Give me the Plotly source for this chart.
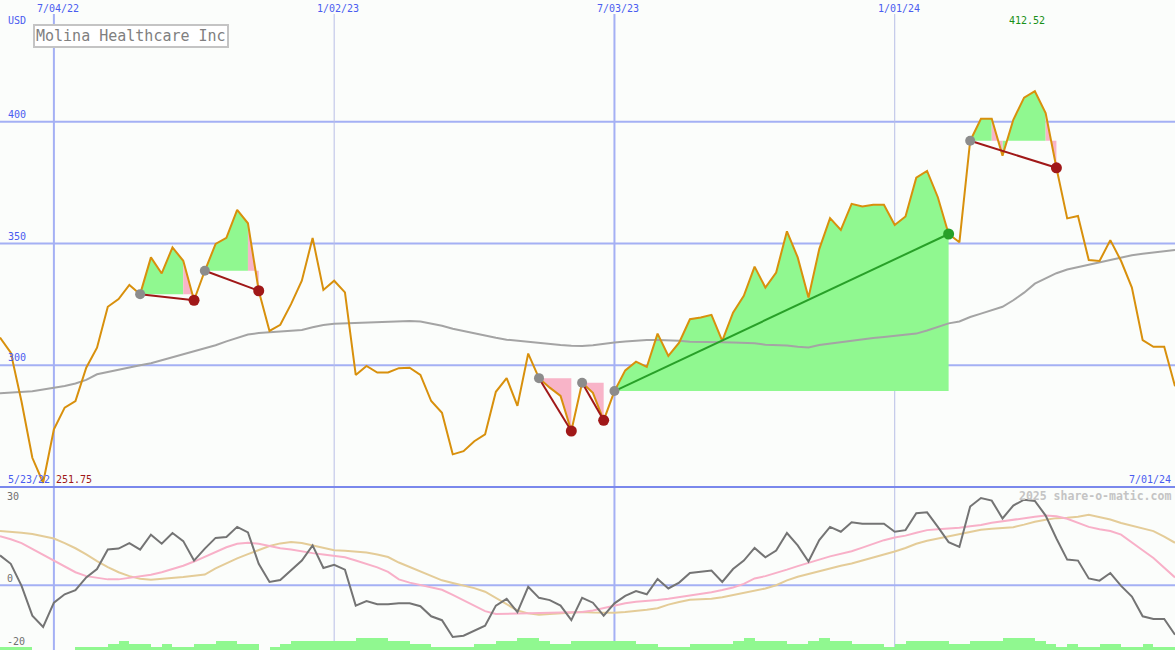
import plotly.graph_objects as go
import pandas as pd

# ---------------- data ----------------
dates = [d.strftime("%Y-%m-%d") for d in pd.date_range("2022-05-30", periods=110, freq="7D")]

price = [311.4, 305.2, 285.0, 262.0, 251.75, 273.7, 282.6, 285.3, 299.0, 307.2,
         324.0, 327.2, 333.0, 329.2, 344.3, 337.7, 348.4, 342.9, 326.7, 338.8,
         349.8, 352.3, 363.8, 358.3, 330.6, 314.1, 316.6, 325.1, 334.7, 352.3,
         330.9, 334.7, 329.9, 296.0, 299.7, 297.0, 297.0, 298.8, 299.0, 296.0,
         285.3, 280.5, 263.4, 264.7, 268.8, 271.6, 289.1, 294.7, 283.3, 304.8,
         294.7, 290.8, 287.4, 273.0, 292.8, 288.7, 277.4, 289.4, 297.9, 301.5,
         299.3, 313.0, 303.8, 309.3, 318.9, 319.6, 320.7, 310.0, 321.6, 328.5,
         340.5, 331.9, 338.1, 355.0, 344.3, 327.8, 347.7, 360.4, 355.6, 366.3,
         365.2, 365.9, 365.9, 357.6, 361.1, 377.0, 379.8, 369.0, 353.9, 350.5,
         392.2, 401.2, 401.2, 386.1, 400.8, 409.9, 412.52, 403.6, 381.1, 360.3,
         361.3, 343.2, 342.8, 351.4, 342.8, 331.9, 310.3, 307.6, 307.6, 291.4]

moving_avg = [288.5, 288.8, 289.0, 289.3, 290.0, 290.6, 291.5, 292.5, 294.0, 296.3,
              297.3, 298.3, 299.3, 300.0, 300.8, 302.0, 303.3, 304.6, 305.6, 306.7,
              308.2, 309.8, 311.3, 312.6, 313.2, 313.5, 313.8, 314.1, 314.5, 315.6,
              316.5, 317.0, 317.2, 317.4, 317.6, 317.8, 318.0, 318.2, 318.2, 318.0,
              317.2, 316.2, 315.0, 314.0, 313.0, 312.3, 311.3, 310.5, 310.0, 309.5,
              309.2, 308.8, 308.3, 308.0, 307.9, 308.2, 308.9, 309.3, 309.8, 310.2,
              310.4, 310.4, 310.4, 310.1, 309.7, 309.7, 309.5, 309.4, 309.3, 309.3,
              309.0, 308.4, 308.3, 308.1, 307.6, 307.3, 308.3, 308.9, 309.6, 310.3,
              310.9, 311.2, 311.6, 312.0, 312.4, 313.0, 314.3, 315.8, 317.2, 318.0,
              319.8, 321.2, 322.5, 324.0, 326.7, 329.8, 333.5, 335.8, 337.8, 339.3,
              340.3, 341.3, 342.4, 343.2, 344.3, 345.2, 345.8, 346.4, 346.9, 347.3]

osc_gray = [9.2, 6.6, -0.2, -9.4, -12.9, -5.4, -2.8, -1.5, 2.4, 5.0,
            11.0, 11.3, 13.0, 11.0, 15.6, 12.8, 16.1, 13.6, 7.6, 11.3,
            14.6, 14.9, 18.0, 16.3, 6.6, 1.0, 1.6, 4.5, 7.6, 12.3,
            5.3, 6.3, 4.8, -6.3, -4.9, -5.9, -5.9, -5.6, -5.6, -6.5,
            -9.6, -10.8, -16.0, -15.6, -14.0, -12.5, -6.3, -4.2, -8.3, -0.5,
            -3.9, -4.6, -6.3, -10.8, -3.9, -5.4, -9.4, -5.6, -3.3, -1.8,
            -2.8, 1.9, -1.0, 0.8, 3.75, 4.2, 4.5, 1.0, 5.0, 7.6,
            11.5, 8.6, 10.7, 16.1, 12.3, 7.3, 13.9, 18.0, 16.5, 19.4,
            19.0, 19.0, 19.0, 16.5, 17.0, 22.2, 22.5, 18.0, 13.3, 11.8,
            24.3, 26.9, 26.1, 20.6, 24.6, 26.4, 26.0, 21.5, 14.4, 7.9,
            7.6, 2.1, 1.4, 3.75, -0.2, -3.5, -9.6, -10.4, -10.4, -15.3]

osc_pink = [15.1, 14.2, 13.0, 11.2, 9.4, 7.5, 5.7, 4.0, 2.8, 2.2,
            1.8, 1.8, 2.3, 2.7, 3.2, 4.0, 5.0, 6.0, 7.3, 8.8,
            10.3, 11.7, 12.8, 13.1, 12.8, 12.1, 11.4, 11.0, 10.4, 9.9,
            9.5, 9.1, 8.6, 7.6, 6.6, 5.5, 4.1, 1.8, 0.8, 0.1,
            -0.6, -1.4, -3.0, -4.6, -6.3, -8.0, -8.9, -8.8, -8.75, -8.6,
            -8.5, -8.4, -8.3, -8.3, -8.3, -7.8, -7.1, -6.2, -5.6, -5.1,
            -4.9, -4.6, -4.2, -3.7, -3.3, -2.8, -2.2, -1.5, -0.7, 0.4,
            2.1, 2.8, 3.7, 4.8, 5.9, 7.0, 7.9, 8.9, 9.6, 10.5,
            11.6, 12.8, 13.9, 14.7, 15.3, 16.2, 17.0, 17.3, 17.5, 17.7,
            18.2, 18.6, 19.3, 19.8, 20.3, 20.7, 21.1, 21.5, 21.3, 20.5,
            19.2, 18.0, 17.3, 16.7, 15.6, 13.1, 10.8, 8.4, 5.5, 2.4]

osc_tan = [16.7, 16.5, 16.2, 15.8, 15.2, 14.4, 13.0, 11.4, 9.5, 7.4,
           5.6, 4.0, 2.8, 2.0, 1.7, 1.9, 2.1, 2.5, 2.9, 3.3,
           5.2, 6.8, 8.3, 9.6, 10.9, 12.1, 12.9, 13.3, 13.0, 12.3,
           11.4, 10.8, 10.6, 10.4, 10.1, 9.5, 8.7, 7.0, 5.6, 4.1,
           2.8, 1.5, 0.7, 0.0, -0.9, -2.0, -3.9, -5.9, -7.8, -8.7,
           -9.1, -8.9, -8.7, -8.5, -8.3, -8.45, -8.5, -8.5, -8.3, -8.0,
           -7.6, -7.1, -6.0, -5.2, -4.5, -4.3, -4.2, -3.7, -3.0, -2.3,
           -1.6, -1.0, 0.0, 1.5, 2.6, 3.5, 4.4, 5.3, 6.0, 6.7,
           7.6, 8.6, 9.4, 10.4, 11.5, 12.8, 13.7, 14.4, 15.2, 15.9,
           16.5, 17.1, 17.4, 17.6, 17.9, 18.7, 19.6, 20.2, 20.7, 20.85,
           21.1, 21.7, 21.1, 20.3, 19.2, 18.3, 17.5, 16.7, 15.0, 13.1]

volume_level = [1, 1, 1, 0, 0, 0, 0, 1, 1, 1,
                2, 3, 2, 2, 1, 2, 1, 1, 2, 2,
                3, 3, 2, 2, 0, 1, 2, 3, 3, 3,
                3, 3, 3, 4, 4, 4, 3, 3, 2, 2,
                1, 1, 1, 1, 2, 2, 3, 3, 4, 4,
                3, 2, 2, 3, 3, 3, 3, 3, 3, 2,
                2, 1, 1, 1, 2, 2, 2, 2, 3, 4,
                3, 3, 3, 2, 2, 3, 4, 3, 3, 2,
                2, 2, 1, 2, 3, 3, 3, 3, 2, 2,
                3, 3, 3, 4, 4, 4, 3, 2, 1, 2,
                1, 1, 2, 2, 1, 1, 2, 1, 1, 1]

# trades: (entry week index, exit week index)
trade_entries = [13, 19, 50, 54, 57, 90]
trade_exits = [18, 24, 53, 56, 88, 98]

price_ticks = [300, 350, 400]
top_date_ticks = ["2022-07-04", "2023-01-02", "2023-07-03", "2024-01-01"]
top_date_labels = ["7/04/22", "1/02/23", "7/03/23", "1/01/24"]
osc_ticks = [30, 0, -20]

# ---------------- styling ----------------
W, H = 1175, 650
BG = "#fbfdfb"
GREEN_FILL = "#90f890"
PINK_FILL = "#f8b4c8"
PRICE_COL = "#d8900c"
MA_COL = "#a4a4a4"
GRID_BLUE = "#a4b0f4"
GRID_SOFT = "#b8bee6"
DIV_BLUE = "#7a88ec"
LABEL_BLUE = "#4a5cf0"
FONT = "DejaVu Sans Mono"
LEVEL_UNIT = 0.93
WEEK_MS = 7 * 24 * 3600 * 1000

fig = go.Figure()

# ---- trade fills ----
gx, gy, px_, py_ = [], [], [], []
for s, e in zip(trade_entries, trade_exits):
    base = price[s]
    for k in range(s, e):
        xs = [dates[k], dates[k], dates[k + 1], dates[k + 1], dates[k], None]
        ys = [base, price[k], price[k + 1], base, base, None]
        if price[k + 1] >= base:
            gx += xs; gy += ys
        else:
            px_ += xs; py_ += ys

fig.add_trace(go.Scatter(x=gx, y=gy, mode="lines", fill="toself", fillcolor=GREEN_FILL,
                         line=dict(width=0, color=GREEN_FILL), hoverinfo="skip",
                         xaxis="x", yaxis="y"))
fig.add_trace(go.Scatter(x=px_, y=py_, mode="lines", fill="toself", fillcolor=PINK_FILL,
                         line=dict(width=0, color=PINK_FILL), hoverinfo="skip",
                         xaxis="x", yaxis="y"))

# ---- moving average and price ----
fig.add_trace(go.Scatter(x=dates, y=moving_avg, mode="lines",
                         line=dict(color=MA_COL, width=2), xaxis="x", yaxis="y"))
fig.add_trace(go.Scatter(x=dates, y=price, mode="lines",
                         line=dict(color=PRICE_COL, width=2), xaxis="x", yaxis="y"))

# ---- trade connectors and markers ----
for s, e in zip(trade_entries, trade_exits):
    win = price[e] > price[s]
    col = "#28a028" if win else "#a01818"
    fig.add_trace(go.Scatter(x=[dates[s], dates[e]], y=[price[s], price[e]], mode="lines",
                             line=dict(color=col, width=2), xaxis="x", yaxis="y"))
    fig.add_trace(go.Scatter(x=[dates[s]], y=[price[s]], mode="markers",
                             marker=dict(color="#8c8c8c", size=10, line=dict(width=0)),
                             xaxis="x", yaxis="y"))
    fig.add_trace(go.Scatter(x=[dates[e]], y=[price[e]], mode="markers",
                             marker=dict(color=col, size=11, line=dict(width=0)),
                             xaxis="x", yaxis="y"))

# ---- bottom panel ----
fig.add_trace(go.Bar(x=dates, y=[v * LEVEL_UNIT for v in volume_level], base=-20,
                     width=WEEK_MS, offset=0, marker=dict(color=GREEN_FILL, line=dict(width=0)),
                     xaxis="x2", yaxis="y2"))
fig.add_trace(go.Scatter(x=dates, y=osc_tan, mode="lines",
                         line=dict(color="#e4cc98", width=2), xaxis="x2", yaxis="y2"))
fig.add_trace(go.Scatter(x=dates, y=osc_pink, mode="lines",
                         line=dict(color="#f8b0c8", width=2), xaxis="x2", yaxis="y2"))
fig.add_trace(go.Scatter(x=dates, y=osc_gray, mode="lines",
                         line=dict(color="#747474", width=2), xaxis="x2", yaxis="y2"))

# ---- grid shapes ----
shapes = []
for p in price_ticks:
    shapes.append(dict(type="line", xref="paper", x0=0, x1=1, yref="y", y0=p, y1=p,
                       line=dict(color=GRID_BLUE, width=2), layer="below"))
for d in top_date_ticks:
    strong = d.endswith("-07-04") or d.endswith("-07-03")
    shapes.append(dict(type="line", xref="x", x0=d, x1=d, yref="paper", y0=0, y1=1 - 14 / H,
                       line=dict(color=GRID_BLUE if strong else GRID_SOFT, width=2 if strong else 1),
                       layer="below"))
shapes.append(dict(type="line", xref="paper", x0=0, x1=1, yref="y2", y0=0, y1=0,
                   line=dict(color=GRID_BLUE, width=2), layer="below"))
shapes.append(dict(type="line", xref="paper", x0=0, x1=1, yref="paper",
                   y0=1 - 487 / H, y1=1 - 487 / H, line=dict(color=DIV_BLUE, width=2)))

# ---- annotations ----
def px(xp):
    return xp / W

def py(yp):
    return 1 - yp / H

ann = []
LS = 10
lab = dict(family=FONT, size=LS, color=LABEL_BLUE)
ann.append(dict(text="USD", xref="paper", yref="paper", x=px(6), y=py(20),
                xanchor="left", yanchor="middle", showarrow=False, font=lab))
for p in price_ticks:
    ann.append(dict(text=str(p), xref="paper", yref="y", x=px(6), y=p, yshift=0,
                    xanchor="left", yanchor="bottom", showarrow=False, font=lab))
for d, t in zip(top_date_ticks, top_date_labels):
    ann.append(dict(text=t, xref="x", yref="paper", x=d, xshift=4, y=py(8),
                    xanchor="center", yanchor="middle", showarrow=False, font=lab))
ann.append(dict(text="5/23/22", xref="paper", yref="paper", x=px(6), y=py(479),
                xanchor="left", yanchor="middle", showarrow=False, font=lab))
ann.append(dict(text="%.2f" % min(price), xref="paper", yref="paper", x=px(54), y=py(479),
                xanchor="left", yanchor="middle", showarrow=False,
                font=dict(family=FONT, size=LS, color="#a01818")))
ann.append(dict(text="7/01/24", xref="paper", yref="paper", x=px(1173), y=py(479),
                xanchor="right", yanchor="middle", showarrow=False, font=lab))
ann.append(dict(text="%.2f" % max(price), xref="paper", yref="paper", x=px(1027), y=py(20),
                xanchor="center", yanchor="middle", showarrow=False,
                font=dict(family=FONT, size=LS, color="#189018")))
ann.append(dict(text="<b>2025 share-o-matic.com</b>", xref="paper", yref="paper", x=px(1173), y=py(496),
                xanchor="right", yanchor="middle", showarrow=False,
                font=dict(family=FONT, size=11.5, color="#c4c4c4")))
osc_lab_y = {30: 496, 0: 578, -20: 641}
for t in osc_ticks:
    ann.append(dict(text=str(t), xref="paper", yref="paper", x=px(5), y=py(osc_lab_y[t]),
                    xanchor="left", yanchor="middle", showarrow=False,
                    font=dict(family=FONT, size=LS, color="#707070")))
ann.append(dict(text="Molina Healthcare Inc", xref="paper", yref="paper", x=px(130.5), y=py(36.5),
                xanchor="center", yanchor="middle", showarrow=False,
                bgcolor="#ffffff", bordercolor="#c4c4c4", borderwidth=2, borderpad=1,
                font=dict(family=FONT, size=15, color="#808080")))

xr = ["2022-05-30", "2024-07-01"]
fig.update_layout(
    width=W, height=H,
    margin=dict(l=0, r=0, t=0, b=0),
    paper_bgcolor=BG, plot_bgcolor=BG,
    showlegend=False,
    bargap=0,
    xaxis=dict(type="date", range=xr, visible=False, domain=[0, 1], anchor="y"),
    xaxis2=dict(type="date", range=xr, visible=False, domain=[0, 1], anchor="y2", matches="x"),
    yaxis=dict(range=[250, 450], visible=False, domain=[163 / H, 1], anchor="x"),
    yaxis2=dict(range=[-20, 30], visible=False, domain=[0, 162 / H], anchor="x2"),
    shapes=shapes,
    annotations=ann,
)

fig.write_html("out.html",
               config={"displayModeBar": False},
               post_script="document.body.style.margin='0px';document.body.style.padding='0px';"
                           "document.body.style.overflow='hidden';")
